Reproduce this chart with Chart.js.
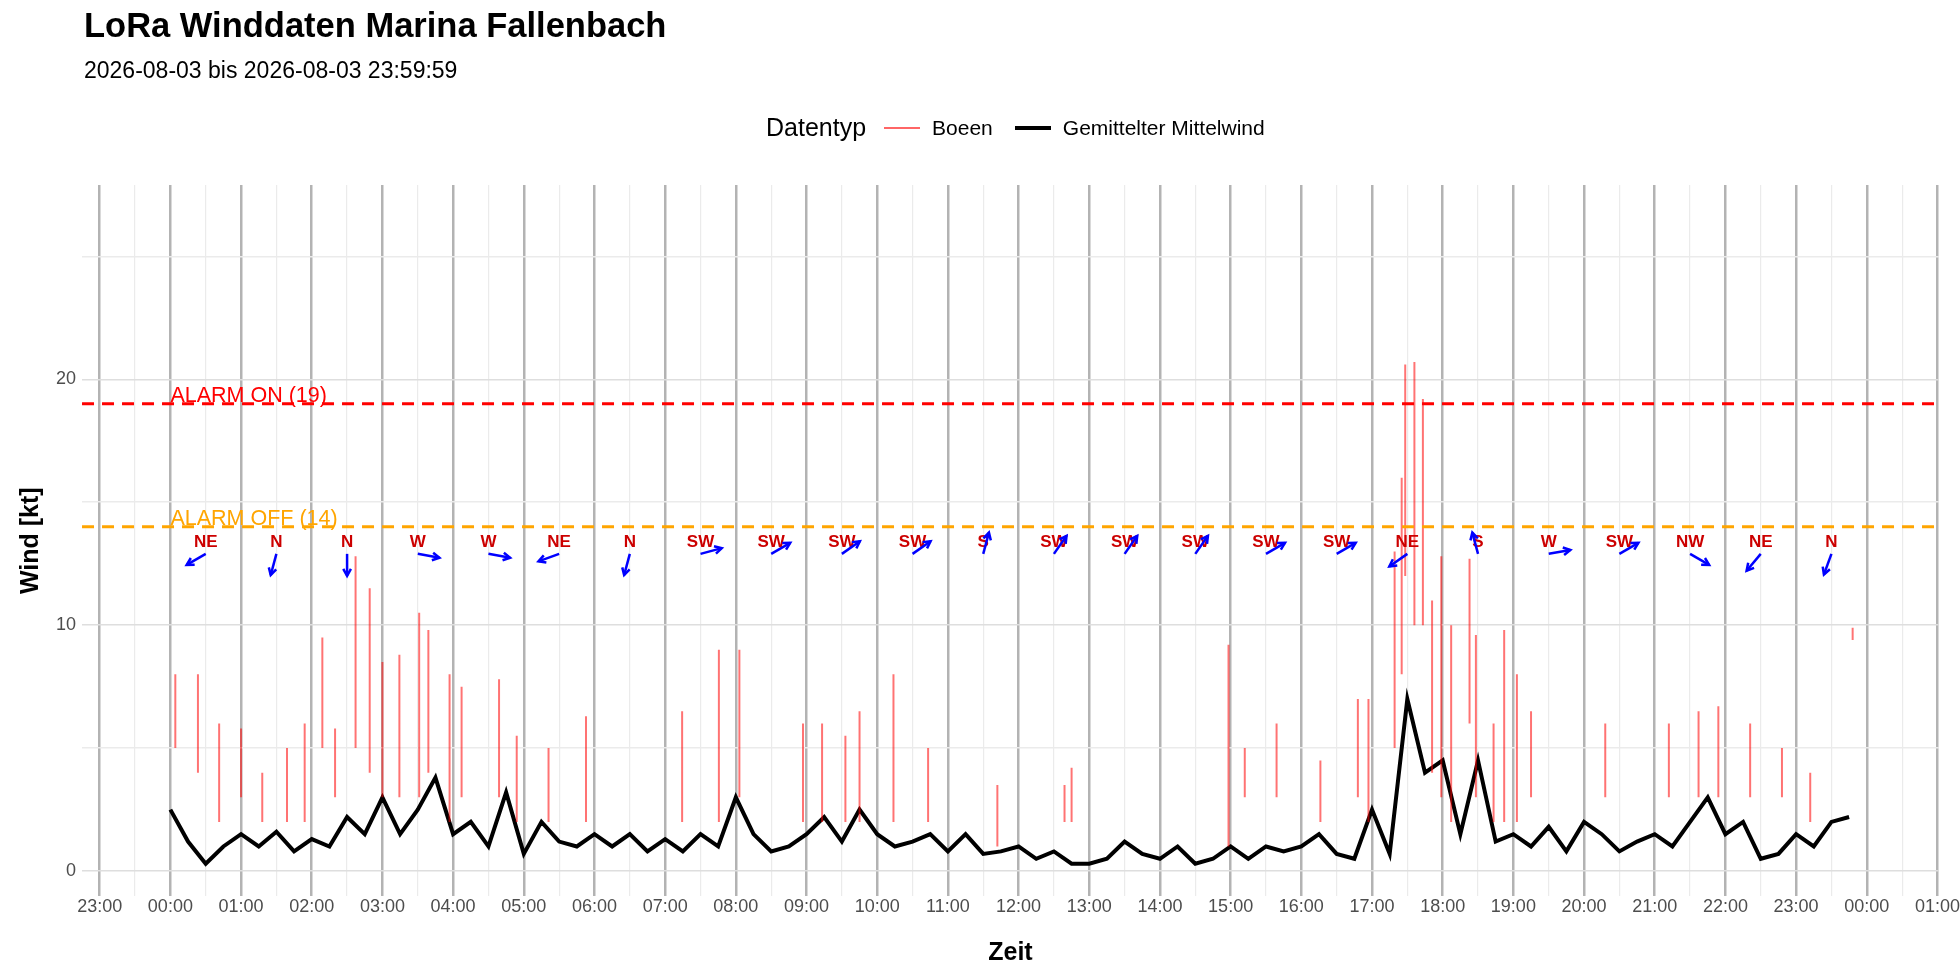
<!DOCTYPE html>
<html><head><meta charset="utf-8">
<script src="https://cdn.jsdelivr.net/npm/chart.js@4"></script>
<style>
  body { margin:0; background:#fff; font-family: "Liberation Sans", Arial, sans-serif; }
  #wrap { position:relative; width:1960px; height:980px; }
  #title { position:absolute; left:84px; top:6px; font-size:34.5px; font-weight:bold; color:#000; }
  #sub { position:absolute; left:84px; top:57px; font-size:23px; color:#000; }
  #legend { position:absolute; top:113px; left:766px; font-size:21px; display:flex; align-items:center; }
  #legend .lt { font-size:25px; margin-right:18px; }
  #legend .sw { display:inline-block; width:36px; margin-right:12px; }
  #legend .it { margin-right:22px; }
  canvas { position:absolute; left:0; top:0; }
</style></head>
<body><div id="wrap">
<canvas id="c" width="1960" height="980"></canvas>
<div id="title">LoRa Winddaten Marina Fallenbach</div>
<div id="sub">2026-08-03 bis 2026-08-03 23:59:59</div>
<div id="legend"><span class="lt">Datentyp</span>
  <span class="sw" style="border-top:2px solid rgba(255,0,0,0.6)"></span><span class="it">Boeen</span>
  <span class="sw" style="border-top:4px solid #000"></span><span>Gemittelter Mittelwind</span></div>
</div>
<script>
// mean wind, 15-minute steps starting 00:00 (hours since midnight)
const meanTimes = [];
for (let i = 0; i < 96; i++) meanTimes.push(i * 0.25);
const meanWind = [
  2.5, 1.2, 0.3, 1.0, 1.5, 1.0, 1.6, 0.8, 1.3, 1.0, 2.2, 1.5, 3.0, 1.5, 2.5, 3.8,
  1.5, 2.0, 1.0, 3.2, 0.7, 2.0, 1.2, 1.0, 1.5, 1.0, 1.5, 0.8, 1.3, 0.8, 1.5, 1.0,
  3.0, 1.5, 0.8, 1.0, 1.5, 2.2, 1.2, 2.5, 1.5, 1.0, 1.2, 1.5, 0.8, 1.5, 0.7, 0.8,
  1.0, 0.5, 0.8, 0.3, 0.3, 0.5, 1.2, 0.7, 0.5, 1.0, 0.3, 0.5, 1.0, 0.5, 1.0, 0.8,
  1.0, 1.5, 0.7, 0.5, 2.5, 0.7, 7.0, 4.0, 4.5, 1.5, 4.5, 1.2, 1.5, 1.0, 1.8, 0.8,
  2.0, 1.5, 0.8, 1.2, 1.5, 1.0, 2.0, 3.0, 1.5, 2.0, 0.5, 0.7, 1.5, 1.0, 2.0, 2.2
];
// gusts: time, low, high
const gustTimes = [0.07,0.39,0.69,1.0,1.3,1.65,1.9,2.15,2.33,2.62,2.82,3.0,3.24,3.52,3.65,3.95,4.12,4.65,4.9,5.35,5.88,
  7.24,7.76,8.05,8.95,9.22,9.55,9.75,10.23,10.72,11.7,12.65,12.75,14.97,15.2,15.65,16.27,16.8,16.95,
  17.32,17.42,17.47,17.6,17.72,17.85,17.98,18.12,18.38,18.47,18.72,18.87,19.05,19.25,20.3,21.2,21.62,21.9,22.35,22.8,23.2,23.8];
const gustLow = [5,4,2,3,2,2,2,5,3,5,4,3,3,3,4,2,3,3,2,2,2,
  2,2,3,2,2,2,2,2,2,1,2,2,1,3,3,2,3,2,
  5,8,12,10,10,4,3,2,6,3,2,2,2,3,3,3,3,3,3,3,2,9.4];
const gustHigh = [8,8,6,5.8,4,5,6,9.5,5.8,12.8,11.5,8.5,8.8,10.5,9.8,8,7.5,7.8,5.5,5,6.3,
  6.5,9,9,6,6,5.5,6.5,8,5,3.5,3.5,4.2,9.2,5,6,4.5,7,7,
  13,16,20.6,20.7,19.2,11,12.8,10,12.7,9.6,6,9.8,8,6.5,6,6,6.5,6.7,6,5,4,9.9];
const dirTimes = [];
for (let i = 0; i < 24; i++) dirTimes.push(i + 0.5);
const dirLabels = ['NE','N','N','W','W','NE','N','SW','SW','SW','SW','S','SW','SW','SW','SW','SW','NE','S','W','SW','NW','NE','N'];
const dirFrom = [60,15,0,280,280,70,15,255,240,235,235,195,215,215,215,240,240,55,165,260,240,300,40,20];
const xTicks = [];
for (let h = -1; h <= 25; h += 0.5) xTicks.push(h);
const yTicks = [0, 5, 10, 15, 20, 25];
const alarmOn = 19, alarmOff = 14;

const meanData = meanTimes.map((t, i) => ({ x: t, y: meanWind[i] }));
const gustData = [];
gustTimes.forEach((t, i) => {
  gustData.push({ x: t, y: gustLow[i] }, { x: t, y: gustHigh[i] }, { x: t, y: null });
});

const pad = n => String(n).padStart(2, '0');

const overlay = {
  id: 'overlay',
  afterDatasetsDraw(chart) {
    const { ctx, chartArea: a, scales: { x, y } } = chart;
    ctx.save();
    ctx.lineWidth = 3;
    ctx.setLineDash([12, 8]);
    [[alarmOn, '#ff0000', 'ALARM ON (19)'], [alarmOff, '#ffa500', 'ALARM OFF (14)']].forEach(([v, col, txt]) => {
      const py = y.getPixelForValue(v);
      ctx.strokeStyle = col;
      ctx.beginPath(); ctx.moveTo(a.left, py); ctx.lineTo(a.right, py); ctx.stroke();
      ctx.fillStyle = col;
      ctx.font = '21.5px "Liberation Sans", Arial';
      ctx.textAlign = 'left'; ctx.textBaseline = 'bottom';
      ctx.fillText(txt, x.getPixelForValue(0), py + 3);
    });
    ctx.setLineDash([]);
    const ly = y.getPixelForValue(13.35);
    dirTimes.forEach((t, i) => {
      const px = x.getPixelForValue(t);
      ctx.fillStyle = '#cc0000';
      ctx.font = 'bold 17px "Liberation Sans", Arial';
      ctx.textAlign = 'center'; ctx.textBaseline = 'middle';
      ctx.fillText(dirLabels[i], px, ly);
      const to = (dirFrom[i] + 180) * Math.PI / 180;
      const sx = px, sy = y.getPixelForValue(12.9);
      const ex = sx + Math.sin(to) * 22, ey = sy - Math.cos(to) * 22;
      ctx.strokeStyle = '#0000ff'; ctx.lineWidth = 2.5;
      ctx.beginPath(); ctx.moveTo(sx, sy); ctx.lineTo(ex, ey); ctx.stroke();
      const ang = Math.atan2(ey - sy, ex - sx);
      ctx.beginPath();
      ctx.moveTo(ex - 8 * Math.cos(ang - 0.5), ey - 8 * Math.sin(ang - 0.5));
      ctx.lineTo(ex, ey);
      ctx.lineTo(ex - 8 * Math.cos(ang + 0.5), ey - 8 * Math.sin(ang + 0.5));
      ctx.stroke();
    });
    ctx.restore();
  }
};

new Chart(document.getElementById('c'), {
  type: 'line',
  data: {
    datasets: [
      { label: 'Boeen', data: gustData, borderColor: 'rgba(255,0,0,0.55)', borderWidth: 2, pointRadius: 0, spanGaps: false },
      { label: 'Gemittelter Mittelwind', data: meanData, borderColor: '#000', borderWidth: 4, pointRadius: 0, tension: 0 }
    ]
  },
  options: {
    responsive: false, animation: false,
    layout: { padding: { top: 185, right: 14, left: 12, bottom: 12 } },
    plugins: { legend: { display: false }, tooltip: { enabled: false } },
    scales: {
      x: {
        type: 'linear', min: -1.25, max: 25.02,
        border: { display: false },
        afterBuildTicks: s => { s.ticks = xTicks.map(v => ({ value: v })); },
        ticks: { autoSkip: false, maxRotation: 0, minRotation: 0, padding: 0, color: '#4d4d4d', font: { size: 18, family: 'Liberation Sans' },
          callback: v => Number.isInteger(v) ? pad(((v % 24) + 24) % 24) + ':00' : '' },
        grid: { color: c => Number.isInteger(c.tick.value) ? '#b3b3b3' : '#ebebeb',
          lineWidth: c => Number.isInteger(c.tick.value) ? 2.5 : 1.2, drawTicks: false, tickLength: 0 },
        title: { display: true, text: 'Zeit', font: { size: 25, weight: 'bold', family: 'Liberation Sans' }, color: '#000', padding: { top: 20, bottom: 0 } }
      },
      y: {
        min: -1.03, max: 27.9,
        border: { display: false },
        afterBuildTicks: s => { s.ticks = yTicks.map(v => ({ value: v })); },
        ticks: { color: '#4d4d4d', font: { size: 18, family: 'Liberation Sans' }, padding: 6,
          callback: v => v % 10 === 0 ? String(v) : '' },
        grid: { color: c => c.tick.value % 10 === 0 ? '#dedede' : '#ebebeb', lineWidth: 1.5, drawTicks: false, tickLength: 0 },
        title: { display: true, text: 'Wind [kt]', font: { size: 25, weight: 'bold', family: 'Liberation Sans' }, color: '#000' }
      }
    }
  },
  plugins: [overlay]
});
</script></body></html>
